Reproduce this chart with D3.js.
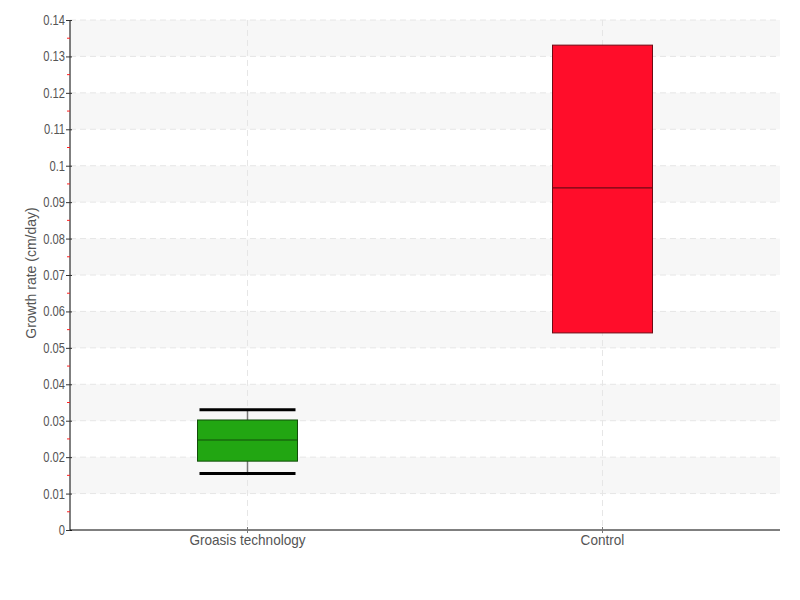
<!DOCTYPE html>
<html><head><meta charset="utf-8">
<script src="https://cdn.jsdelivr.net/npm/d3@7"></script>
<style>body{margin:0;background:#fff}text{font-family:"Liberation Sans",Arial,sans-serif}</style>
</head><body><svg id="c" width="800" height="600"></svg>
<script>
const categories = ["Groasis technology", "Control"];
const lowWhisker = [0.0155, 0.0541];
const q1 = [0.0189, 0.0541];
const median = [0.0247, 0.0939];
const q3 = [0.0302, 0.1331];
const highWhisker = [0.0330, 0.1331];
const colors = ["#22a612", "#ff0d2a"];
const strokes = ["#124d0a", "#6e0a14"];
const yTicks = [0,0.01,0.02,0.03,0.04,0.05,0.06,0.07,0.08,0.09,0.1,0.11,0.12,0.13,0.14];
const yMinor = [0.005,0.015,0.025,0.035,0.045,0.055,0.065,0.075,0.085,0.095,0.105,0.115,0.125,0.135];

const svg = d3.select("#c");
const L=70,R=780,T=20,B=530;
const x = d3.scaleBand().domain(categories).range([L,R]);
const y = d3.scaleLinear().domain([0,0.14]).range([B,T]);

// bands
const bands = yTicks.slice(0,-1).map((v,i)=>[v,yTicks[i+1]]).filter((d,i)=>i%2===1);
svg.append("g").selectAll("rect").data(bands).join("rect")
  .attr("x",L).attr("width",R-L).attr("y",d=>y(d[1])).attr("height",d=>y(d[0])-y(d[1]))
  .attr("fill","#f7f7f7");
// grid
svg.append("g").selectAll("line").data(yTicks.slice(1)).join("line")
  .attr("x1",L).attr("x2",R).attr("y1",d=>y(d)).attr("y2",d=>y(d))
  .attr("stroke","#e6e6e6").attr("stroke-dasharray","6,4");
svg.append("g").selectAll("line").data(categories).join("line")
  .attr("x1",d=>x(d)+x.bandwidth()/2).attr("x2",d=>x(d)+x.bandwidth()/2).attr("y1",T).attr("y2",B)
  .attr("stroke","#e6e6e6").attr("stroke-dasharray","6,4");

// boxes
const bw = 100, cw = 96;
categories.forEach((c,i)=>{
  const cx = x(c)+x.bandwidth()/2;
  const g = svg.append("g");
  if (highWhisker[i]>q3[i] || lowWhisker[i]<q1[i]) {
    g.append("line").attr("x1",cx).attr("x2",cx).attr("y1",y(highWhisker[i])).attr("y2",y(lowWhisker[i])).attr("stroke","#777").attr("stroke-width",1.5);
    [highWhisker[i],lowWhisker[i]].forEach(v=>{
      g.append("line").attr("x1",cx-cw/2).attr("x2",cx+cw/2).attr("y1",y(v)).attr("y2",y(v)).attr("stroke","#000").attr("stroke-width",3);
    });
  }
  g.append("rect").attr("x",cx-bw/2).attr("width",bw).attr("y",y(q3[i])).attr("height",y(q1[i])-y(q3[i]))
    .attr("fill",colors[i]).attr("stroke",strokes[i]).attr("stroke-width",1);
  g.append("line").attr("x1",cx-bw/2).attr("x2",cx+bw/2).attr("y1",y(median[i])).attr("y2",y(median[i])).attr("stroke",strokes[i]).attr("stroke-width",1.2);
});

// y axis
const sx = 0.8;
const ya = svg.append("g").attr("transform",`translate(${L},0)`)
  .call(d3.axisLeft(y).tickValues(yTicks).tickFormat(d=>d3.format("~g")(d)).tickSize(5).tickPadding(3));
ya.select(".domain").attr("stroke","#000").attr("d",`M0,${T}V${B}`);
ya.selectAll(".tick line").attr("stroke","#333").attr("x2",-4).attr("x1",2);
ya.selectAll("text").attr("fill","#555").attr("font-size",14)
  .attr("x",-5/sx).attr("transform",`scale(${sx},1)`);
svg.append("g").selectAll("line").data(yMinor).join("line")
  .attr("x1",L-3).attr("x2",L).attr("y1",d=>y(d)).attr("y2",d=>y(d)).attr("stroke","#ff2020");

// x axis
const xa = svg.append("g").attr("transform",`translate(0,${B})`)
  .call(d3.axisBottom(x).tickSize(3).tickPadding(2));
xa.select(".domain").attr("stroke","#000").attr("d",`M${L},0H${R}`);
xa.selectAll(".tick line").attr("stroke","#777").attr("y1",-3).attr("y2",3);
xa.selectAll("text").attr("fill","#555").attr("font-size",14)
  .attr("transform",`scale(0.97,1)`);

svg.append("text").attr("transform",`translate(36,${(T+B)/2-2}) rotate(-90)`).attr("text-anchor","middle")
  .attr("fill","#555").attr("font-size",14).text("Growth rate (cm/day)");
</script></body></html>
